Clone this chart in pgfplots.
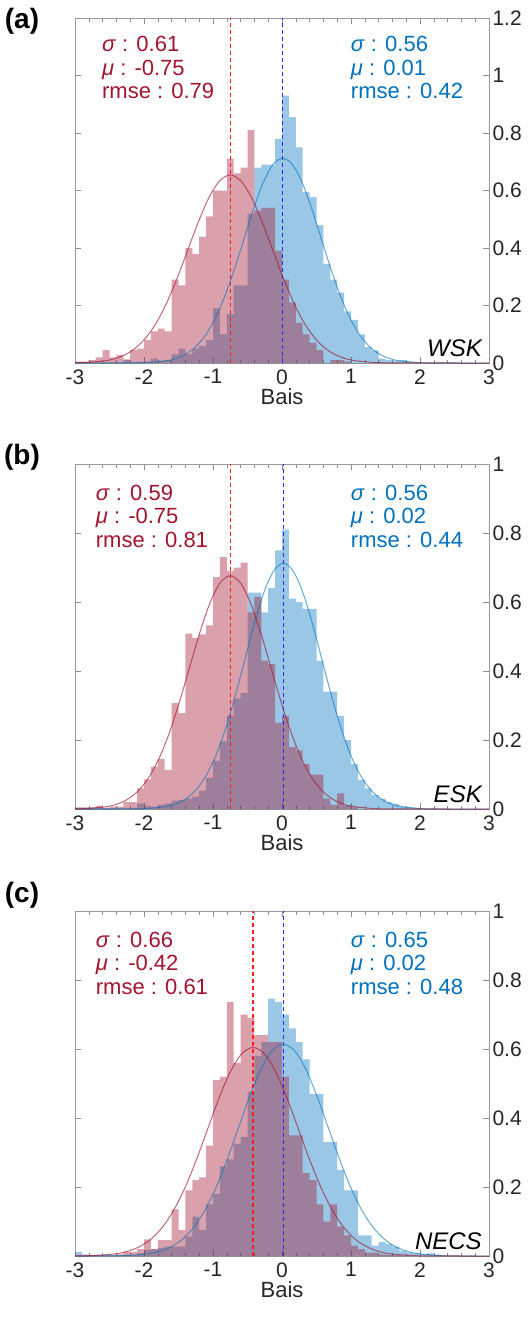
\documentclass[border=0pt]{standalone}
\usepackage{fontspec}
\setmainfont{Liberation Sans}
\usepackage{pgfplots}
\usepackage{pgfplotstable}
\pgfplotsset{compat=1.18}
\definecolor{mred}{RGB}{162,20,47}
\definecolor{mblue}{RGB}{0,114,189}
\definecolor{dred}{RGB}{255,30,30}
\definecolor{dblue}{RGB}{40,40,255}

\pgfplotstableread{
x r b
-3.0 0.005 0.004
-2.9 0.005 0.003
-2.8 0.01 0.002
-2.7 0.02 0.002
-2.6 0.045 0.002
-2.5 0.02 0.002
-2.4 0.027 0.002
-2.3 0.013 0.01
-2.2 0.046 0.003
-2.1 0.05 0.005
-2.0 0.08 0.005
-1.9 0.11 0.015
-1.8 0.12 0.008
-1.7 0.11 0.01
-1.6 0.29 0.03
-1.5 0.27 0.05
-1.4 0.40 0.03
-1.3 0.38 0.05
-1.2 0.44 0.06
-1.1 0.51 0.08
-1.0 0.60 0.19
-0.9 0.60 0.10
-0.8 0.71 0.17
-0.7 0.66 0.27
-0.6 0.68 0.27
-0.5 0.81 0.52
-0.4 0.53 0.68
-0.3 0.54 0.69
-0.2 0.54 0.69
-0.1 0.39 0.78
0.0 0.29 0.93
0.1 0.21 0.855
0.2 0.14 0.75
0.3 0.10 0.594
0.4 0.07 0.577
0.5 0.045 0.48
0.6 0.0 0.345
0.7 0.01 0.29
0.8 0.01 0.245
0.9 0.005 0.18
1.0 0 0.15
1.1 0 0.10
1.2 0 0.055
1.3 0 0.044
1.4 0 0.015
1.5 0 0.01
1.6 0 0.007
1.7 0 0.01
1.8 0 0.005
1.9 0 0.002
2.0 0 0
3.0 0 0
}\tabA

\pgfplotstableread{
x r b
-3.0 0.005 0.003
-2.9 0.005 0.003
-2.8 0.005 0.003
-2.7 0.01 0.003
-2.6 0.003 0.003
-2.5 0.007 0.003
-2.4 0.007 0.003
-2.3 0.02 0.003
-2.2 0.02 0.003
-2.1 0.06 0.016
-2.0 0.086 0.01
-1.9 0.123 0.007
-1.8 0.145 0.012
-1.7 0.113 0.016
-1.6 0.307 0.024
-1.5 0.278 0.026
-1.4 0.508 0.03
-1.3 0.496 0.036
-1.2 0.506 0.053
-1.1 0.532 0.09
-1.0 0.672 0.14
-0.9 0.73 0.196
-0.8 0.69 0.27
-0.7 0.70 0.32
-0.6 0.714 0.336
-0.5 0.57 0.627
-0.4 0.615 0.627
-0.3 0.43 0.57
-0.2 0.42 0.64
-0.1 0.25 0.75
0.0 0.27 0.81
0.1 0.18 0.61
0.2 0.17 0.60
0.3 0.13 0.58
0.4 0.10 0.58
0.5 0.10 0.43
0.6 0.03 0.34
0.7 0.012 0.34
0.8 0.045 0.27
0.9 0.01 0.20
1.0 0.005 0.13
1.1 0 0.084
1.2 0 0.06
1.3 0 0.04
1.4 0 0.03
1.5 0 0.02
1.6 0 0.015
1.7 0 0.008
1.8 0 0.005
1.9 0 0.003
2.0 0 0
3.0 0 0
}\tabB

\pgfplotstableread{
x r b
-3.0 0.002 0.012
-2.9 0.002 0.005
-2.8 0.002 0.003
-2.7 0.002 0.003
-2.6 0.002 0.003
-2.5 0.002 0.003
-2.4 0.005 0.003
-2.3 0.012 0.003
-2.2 0.012 0.003
-2.1 0.02 0.008
-2.0 0.048 0.017
-1.9 0.02 0.02
-1.8 0.046 0.023
-1.7 0.046 0.027
-1.6 0.135 0.027
-1.5 0.075 0.027
-1.4 0.19 0.056
-1.3 0.22 0.114
-1.2 0.228 0.075
-1.1 0.32 0.15
-1.0 0.51 0.18
-0.9 0.52 0.26
-0.8 0.736 0.28
-0.7 0.56 0.326
-0.6 0.70 0.345
-0.5 0.69 0.476
-0.4 0.64 0.58
-0.3 0.64 0.62
-0.2 0.62 0.746
-0.1 0.62 0.736
0.0 0.52 0.70
0.1 0.35 0.66
0.2 0.35 0.62
0.3 0.24 0.57
0.4 0.22 0.47
0.5 0.15 0.47
0.6 0.10 0.33
0.7 0.15 0.33
0.8 0.085 0.25
0.9 0.06 0.19
1.0 0.03 0.19
1.1 0.02 0.06
1.2 0.01 0.06
1.3 0.01 0.03
1.4 0.005 0.04
1.5 0.003 0.035
1.6 0.003 0.027
1.7 0.002 0.015
1.8 0 0.01
1.9 0 0.008
2.0 0 0.005
2.1 0 0.008
2.2 0 0.004
2.3 0 0
3.0 0 0
}\tabC

\pgfplotsset{
  panel/.style={
    scale only axis, width=414bp, height=345bp,
    xmin=-3, xmax=3, ymin=0,
    xtick={-3,-2,-1,0,1,2,3}, minor x tick num=4,
    yticklabel pos=right,
    tick align=inside,
    major tick length=6bp, minor tick length=3.5bp,
    axis line style={black!40},
    every tick/.style={black!45},
    ticklabel style={font=\fontsize{21bp}{24bp}\selectfont, text=black!85},
    xticklabel style={yshift=-3bp},
    /pgf/number format/assume math mode=true,
    xlabel={Bais},
    xlabel style={font=\fontsize{22bp}{26bp}\selectfont, text=black!85, yshift=3bp},
    anchor=south west,
  },
  redhist/.style={draw=none, fill=mred, fill opacity=0.4, const plot},
  bluehist/.style={draw=none, fill=mblue, fill opacity=0.4, const plot},
  redcurve/.style={mred, draw opacity=0.65, line width=1bp, smooth},
  bluecurve/.style={mblue, draw opacity=0.6, line width=1bp, smooth},
  rdash/.style={dred, dash pattern=on 4.5bp off 2.5bp, line width=1.5bp},
  bdash/.style={dblue, dash pattern=on 4.5bp off 2.5bp, line width=1.5bp},
}
\tikzset{
  redtxt/.style={anchor=north west, inner sep=0pt, align=left, text=mred, font=\fontsize{22bp}{23.5bp}\selectfont},
  bluetxt/.style={anchor=north west, inner sep=0pt, align=left, text=mblue, font=\fontsize{22bp}{23.5bp}\selectfont},
  regtxt/.style={anchor=south east, inner sep=0pt, font=\itshape\fontsize{24bp}{26bp}\selectfont},
}

\begin{document}
\begin{tikzpicture}
\useasboundingbox (0,0) rectangle (531bp,-1324bp);

% ---------------- (a)
\begin{axis}[panel, at={(75bp,-363bp)}, ymax=1.2, ytick={0,0.2,0.4,0.6,0.8,1,1.2}]
\addplot[bluehist] table[x=x,y=b] {\tabA} \closedcycle;
\addplot[redhist] table[x=x,y=r] {\tabA} \closedcycle;
\addplot[rdash] coordinates {(-0.75,0) (-0.75,1.2)};
\addplot[bdash] coordinates {(0.01,0) (0.01,1.2)};
\addplot[bluecurve] coordinates {(-3,0) (-2.51,0.00002) (-2.23,0.0002) (-1.95,0.0016) (-1.67,0.0079) (-1.53,0.0162) (-1.39,0.0313) (-1.25,0.0567) (-1.11,0.0964) (-0.97,0.1541) (-0.83,0.2313) (-0.69,0.3262) (-0.55,0.4321) (-0.41,0.5377) (-0.27,0.6287) (-0.13,0.6905) (0.01,0.7124) (0.15,0.6905) (0.29,0.6287) (0.43,0.5377) (0.57,0.4321) (0.71,0.3262) (0.85,0.2313) (0.99,0.1541) (1.13,0.0964) (1.27,0.0567) (1.41,0.0313) (1.55,0.0162) (1.69,0.0079) (1.97,0.0016) (2.25,0.0002) (2.53,0.00002) (3,0)};
\addplot[redcurve] coordinates {(-3,0.0007) (-2.885,0.0014) (-2.58,0.0073) (-2.4275,0.0149) (-2.275,0.0287) (-2.1225,0.0520) (-1.97,0.0885) (-1.8175,0.1414) (-1.665,0.2123) (-1.5125,0.2994) (-1.36,0.3967) (-1.2075,0.4937) (-1.055,0.5772) (-0.9025,0.6339) (-0.75,0.654) (-0.5975,0.6339) (-0.445,0.5772) (-0.2925,0.4937) (-0.14,0.3967) (0.0125,0.2994) (0.165,0.2123) (0.3175,0.1414) (0.47,0.0885) (0.6225,0.0520) (0.775,0.0287) (0.9275,0.0149) (1.08,0.0073) (1.385,0.0014) (1.69,0.0002) (3,0)};
\node[redtxt] at (rel axis cs:0.065,0.948) {\textit{σ} : 0.61\\\textit{μ} : -0.75\\rmse : 0.79};
\node[bluetxt] at (rel axis cs:0.666,0.948) {\textit{σ} : 0.56\\\textit{μ} : 0.01\\rmse : 0.42};
\node[regtxt] at (rel axis cs:0.983,0.018) {WSK};
\end{axis}

% ---------------- (b)
\begin{axis}[panel, at={(75bp,-809bp)}, ymax=1, ytick={0,0.2,0.4,0.6,0.8,1}]
\addplot[bluehist] table[x=x,y=b] {\tabB} \closedcycle;
\addplot[redhist] table[x=x,y=r] {\tabB} \closedcycle;
\addplot[rdash] coordinates {(-0.75,0) (-0.75,1)};
\addplot[bdash] coordinates {(0.02,0) (0.02,1)};
\addplot[bluecurve] coordinates {(-3,0) (-2.50,0.00002) (-2.22,0.0002) (-1.94,0.0016) (-1.66,0.0079) (-1.52,0.0162) (-1.38,0.0313) (-1.24,0.0567) (-1.10,0.0964) (-0.96,0.1541) (-0.82,0.2313) (-0.68,0.3262) (-0.54,0.4321) (-0.40,0.5377) (-0.26,0.6287) (-0.12,0.6905) (0.02,0.7124) (0.16,0.6905) (0.30,0.6287) (0.44,0.5377) (0.58,0.4321) (0.72,0.3262) (0.86,0.2313) (1.00,0.1541) (1.14,0.0964) (1.28,0.0567) (1.42,0.0313) (1.56,0.0162) (1.70,0.0079) (1.98,0.0016) (2.26,0.0002) (2.54,0.00002) (3,0)};
\addplot[redcurve] coordinates {(-3,0.0005) (-2.815,0.0015) (-2.52,0.0075) (-2.3725,0.0154) (-2.225,0.0297) (-2.0775,0.0538) (-1.93,0.0915) (-1.7825,0.1462) (-1.635,0.2195) (-1.4875,0.3096) (-1.34,0.4101) (-1.1925,0.5104) (-1.045,0.5967) (-0.8975,0.6554) (-0.75,0.6762) (-0.6025,0.6554) (-0.455,0.5967) (-0.3075,0.5104) (-0.16,0.4101) (-0.0125,0.3096) (0.135,0.2195) (0.2825,0.1462) (0.43,0.0915) (0.5775,0.0538) (0.725,0.0297) (0.8725,0.0154) (1.02,0.0075) (1.315,0.0015) (1.61,0.0002) (3,0)};
\node[redtxt] at (rel axis cs:0.05,0.94) {\textit{σ} : 0.59\\\textit{μ} : -0.75\\rmse : 0.81};
\node[bluetxt] at (rel axis cs:0.666,0.94) {\textit{σ} : 0.56\\\textit{μ} : 0.02\\rmse : 0.44};
\node[regtxt] at (rel axis cs:0.983,0.018) {ESK};
\end{axis}

% ---------------- (c)
\begin{axis}[panel, at={(75bp,-1256bp)}, ymax=1, ytick={0,0.2,0.4,0.6,0.8,1}]
\addplot[bluehist] table[x=x,y=b] {\tabC} \closedcycle;
\addplot[redhist] table[x=x,y=r] {\tabC} \closedcycle;
\addplot[rdash] coordinates {(-0.42,0) (-0.42,1)};
\addplot[bdash] coordinates {(0.02,0) (0.02,1)};
\addplot[bluecurve] coordinates {(-3,0) (-2.58,0.0002) (-2.255,0.0013) (-1.93,0.0068) (-1.7675,0.0140) (-1.605,0.0270) (-1.4425,0.0488) (-1.28,0.0831) (-1.1175,0.1327) (-0.955,0.1993) (-0.7925,0.2810) (-0.63,0.3723) (-0.4675,0.4633) (-0.305,0.5417) (-0.1425,0.5949) (0.02,0.6138) (0.1825,0.5949) (0.345,0.5417) (0.5075,0.4633) (0.67,0.3723) (0.8325,0.2810) (0.995,0.1993) (1.1575,0.1327) (1.32,0.0831) (1.4825,0.0488) (1.645,0.0270) (1.8075,0.0140) (1.97,0.0068) (2.295,0.0013) (2.62,0.0002) (3,0)};
\addplot[redcurve] coordinates {(-3,0.0003) (-2.73,0.0013) (-2.40,0.0067) (-2.235,0.0138) (-2.07,0.0266) (-1.905,0.0481) (-1.74,0.0818) (-1.575,0.1307) (-1.41,0.1963) (-1.245,0.2768) (-1.08,0.3667) (-0.915,0.4563) (-0.75,0.5335) (-0.585,0.5859) (-0.42,0.6045) (-0.255,0.5859) (-0.09,0.5335) (0.075,0.4563) (0.24,0.3667) (0.405,0.2768) (0.57,0.1963) (0.735,0.1307) (0.90,0.0818) (1.065,0.0481) (1.23,0.0266) (1.395,0.0138) (1.56,0.0067) (1.89,0.0013) (2.22,0.0002) (3,0)};
\node[redtxt] at (rel axis cs:0.05,0.94) {\textit{σ} : 0.66\\\textit{μ} : -0.42\\rmse : 0.61};
\node[bluetxt] at (rel axis cs:0.666,0.94) {\textit{σ} : 0.65\\\textit{μ} : 0.02\\rmse : 0.48};
\node[regtxt] at (rel axis cs:0.983,0.018) {NECS};
\end{axis}

\node[font=\bfseries\fontsize{28bp}{30bp}\selectfont] at (22bp,-21bp) {(a)};
\node[font=\bfseries\fontsize{28bp}{30bp}\selectfont] at (22bp,-457bp) {(b)};
\node[font=\bfseries\fontsize{28bp}{30bp}\selectfont] at (22bp,-895bp) {(c)};
\end{tikzpicture}
\end{document}
